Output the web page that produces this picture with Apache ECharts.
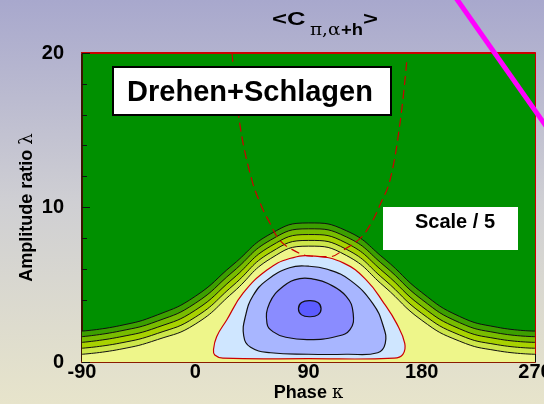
<!DOCTYPE html>
<html>
<head>
<meta charset="utf-8">
<script src="https://cdn.jsdelivr.net/npm/echarts@6/dist/echarts.min.js"></script>
<style>
  html, body { margin: 0; padding: 0; }
  #main { width: 544px; height: 404px; }
</style>
</head>
<body>
<div id="main"></div>
<script>
// phase kappa grid for the open contour lines (deg)
var kappa = [-90, -60, -30, 0, 30, 60, 90, 120, 150, 180, 210, 240, 270];

// open contour levels, top (darkest green boundary) to bottom
var level1 = [2.0, 2.35, 3.05, 4.25, 6.3, 8.3, 9.0, 8.5, 6.7, 4.5, 2.95, 2.25, 2.0];
var level2 = [1.64, 2.0, 2.65, 3.8, 5.85, 7.9, 8.62, 8.1, 6.25, 4.05, 2.55, 1.88, 1.64];
var level3 = [1.27, 1.62, 2.25, 3.35, 5.4, 7.5, 8.25, 7.7, 5.8, 3.6, 2.15, 1.5, 1.27];
var level4 = [0.89, 1.22, 1.85, 2.9, 4.95, 7.1, 7.87, 7.3, 5.35, 3.15, 1.75, 1.12, 0.89];
var level5 = [0.5, 0.82, 1.45, 2.45, 4.5, 6.7, 7.5, 6.9, 4.9, 2.7, 1.35, 0.73, 0.5];

// closed contours [kappa, lambda]
var redLoop = [[14.5, 0.8], [17, 1.64], [25, 2.72], [38, 4.45], [57, 5.95], [75, 6.7], [95, 6.85],
  [118, 6.4], [136, 5.3], [150, 3.8], [160, 2.5], [166.5, 1.2], [165, 0.5], [158, 0.25],
  [90, 0.22], [22, 0.25], [15.5, 0.45]];
var blueLoop1 = [[38.5, 1.7], [40, 3.0], [46, 4.3], [57, 5.3], [75, 6.1], [90, 6.2], [105, 6.0],
  [123, 5.3], [141, 3.8], [149.5, 2.3], [151, 1.2], [145, 0.6], [120, 0.5], [90, 0.5],
  [60, 0.6], [44, 0.95]];
var blueLoop2 = [[57, 2.5], [59, 3.8], [70, 4.9], [83, 5.4], [95, 5.35], [105, 5.1], [120, 4.25],
  [125.5, 3.15], [123, 2.1], [112, 1.65], [90, 1.45], [72, 1.6], [62, 1.95]];
var blueLoop3 = [[82, 3.45], [84.5, 3.85], [91, 3.97], [97.5, 3.85], [100, 3.45], [97.5, 3.05],
  [91, 2.93], [84.5, 3.05]];

// dashed red line
var dashLine = [[29.2, 20], [35.6, 15.3], [44.9, 11.8], [52.8, 10.05], [59.4, 8.98], [66, 8.0],
  [75.3, 7.36], [91.2, 6.86], [107, 6.82], [117.7, 7.25], [131, 8.0], [139, 8.87],
  [146.8, 10.16], [154.8, 11.78], [162.7, 15.45], [168, 19.4]];

var levels = [level1, level2, level3, level4, level5];
var bandColors = ['#3c9f00', '#78bc00', '#a8d200', '#cde64a', '#eef68a'];
var loops = [redLoop, blueLoop1, blueLoop2, blueLoop3];
var loopFill = ['#cfe6ff', '#a8b6ff', '#8a8cff', '#5c5cff'];
var loopStroke = ['#cc0000', '#111', '#111', '#111'];

var font = '"Liberation Sans", Arial, Helvetica, sans-serif';
var serif = '"DejaVu Serif", serif';

var chart = echarts.init(document.getElementById('main'));

var series = [];
levels.forEach(function (lv, i) {
    series.push({
        type: 'line',
        data: kappa.map(function (k, j) { return [k, lv[j]]; }),
        smooth: 0.5,
        symbol: 'none',
        lineStyle: { color: '#111', width: 1 },
        areaStyle: { color: bandColors[i], opacity: 1 },
        silent: true,
        z: 2
    });
});
series.push({
    type: 'custom',
    coordinateSystem: 'cartesian2d',
    data: loops.map(function (l) { return l[0]; }),
    clip: true,
    z: 3,
    renderItem: function (params, api) {
        var pts = loops[params.dataIndex].map(function (p) { return api.coord(p); });
        return {
            type: 'polygon',
            shape: { points: pts, smooth: 0.45 },
            style: { fill: loopFill[params.dataIndex], stroke: loopStroke[params.dataIndex], lineWidth: 1.2 }
        };
    }
});
series.push({
    type: 'line',
    data: dashLine,
    smooth: 0.4,
    symbol: 'none',
    lineStyle: { color: '#cc0000', width: 1.2, type: [9, 5] },
    silent: true,
    z: 4
});

var option = {
    backgroundColor: new echarts.graphic.LinearGradient(0, 0, 0, 1, [
        { offset: 0, color: '#a8a8cd' },
        { offset: 0.5, color: '#cfcfd3' },
        { offset: 1, color: '#e7e4cb' }
    ]),
    animation: false,
    grid: {
        left: 82, right: 9, top: 53, bottom: 42,
        outerBoundsMode: 'none',
        containLabel: false,
        show: true, backgroundColor: '#009000', borderWidth: 0
    },
    xAxis: [{
        type: 'value', min: -90, max: 270, interval: 90,
        splitLine: { show: false },
        axisLine: { onZero: false, lineStyle: { color: '#8a1c00', width: 2 } },
        axisTick: { inside: true, length: 8, lineStyle: { color: '#111' } },
        minorTick: { show: true, splitNumber: 3, length: 5, lineStyle: { color: '#111' } },
        axisLabel: { margin: 0, color: '#000', fontSize: 20, fontWeight: 'bold', fontFamily: font,
            showMinLabel: true, showMaxLabel: true, hideOverlap: false },
        name: '{a|Phase }{b|κ}',
        nameLocation: 'middle',
        nameMoveOverlap: false,
        nameGap: 22,
        nameTextStyle: {
            rich: {
                a: { fontSize: 18, fontWeight: 'bold', fontFamily: font, color: '#000' },
                b: { fontSize: 18, fontFamily: serif, color: '#000' }
            }
        }
    }, {
        type: 'value', min: -90, max: 270, position: 'top',
        splitLine: { show: false }, axisTick: { show: false }, axisLabel: { show: false },
        axisLine: { onZero: false, lineStyle: { color: '#cc0000', width: 2 } }
    }],
    yAxis: [{
        type: 'value', min: 0, max: 20, interval: 10,
        splitLine: { show: false },
        axisLine: { show: true, onZero: false, lineStyle: { color: '#3b1400', width: 2 } },
        axisTick: { show: true, inside: true, length: 8, lineStyle: { color: '#111' } },
        minorTick: { show: true, splitNumber: 5, length: 5, lineStyle: { color: '#111' } },
        axisLabel: { margin: 18, color: '#000', fontSize: 20, fontWeight: 'bold', fontFamily: font },
        name: '{a|Amplitude ratio }{b|λ}',
        nameLocation: 'middle',
        nameRotate: 90,
        nameMoveOverlap: false,
        nameGap: 46,
        nameTextStyle: {
            rich: {
                a: { fontSize: 18, fontWeight: 'bold', fontFamily: font, color: '#000' },
                b: { fontSize: 18, fontFamily: serif, color: '#000' }
            }
        }
    }, {
        type: 'value', min: 0, max: 20, position: 'right',
        splitLine: { show: false }, axisTick: { show: false }, axisLabel: { show: false },
        axisLine: { show: true, onZero: false, lineStyle: { color: '#cc0000', width: 1 } }
    }],
    graphic: [
        // title <C pi,alpha+h>
        { type: 'text', z: 100, x: 272, y: 19.5, scaleX: 1.35,
          style: { text: '<C', font: 'bold 19px ' + font, fill: '#000', verticalAlign: 'middle' } },
        { type: 'text', z: 100, x: 310, y: 31, scaleX: 1.15,
          style: { text: 'π,α', font: '16px ' + serif, fill: '#000', verticalAlign: 'middle' } },
        { type: 'text', z: 100, x: 341, y: 31, scaleX: 1.15,
          style: { text: '+h', font: 'bold 16px ' + font, fill: '#000', verticalAlign: 'middle' } },
        { type: 'text', z: 100, x: 363, y: 19.5, scaleX: 1.35,
          style: { text: '>', font: 'bold 19px ' + font, fill: '#000', verticalAlign: 'middle' } },
        // label boxes
        { type: 'rect', z: 100, shape: { x: 113, y: 67, width: 278, height: 48 },
          style: { fill: '#fff', stroke: '#000', lineWidth: 2 } },
        { type: 'text', z: 101, style: { x: 250, y: 93, text: 'Drehen+Schlagen', font: 'bold 29px ' + font,
          fill: '#000', align: 'center', verticalAlign: 'middle' } },
        { type: 'rect', z: 100, shape: { x: 383, y: 207, width: 135, height: 43 }, style: { fill: '#fff' } },
        { type: 'text', z: 101, style: { x: 455, y: 222, text: 'Scale / 5', font: 'bold 20px ' + font,
          fill: '#000', align: 'center', verticalAlign: 'middle' } },
        // magenta stroke across the corner
        { type: 'line', z: 110, shape: { x1: 456, y1: -2, x2: 560, y2: 146 },
          style: { stroke: '#ff00ff', lineWidth: 5 } }
    ],
    series: series
};
chart.setOption(option);
</script>
</body>
</html>
